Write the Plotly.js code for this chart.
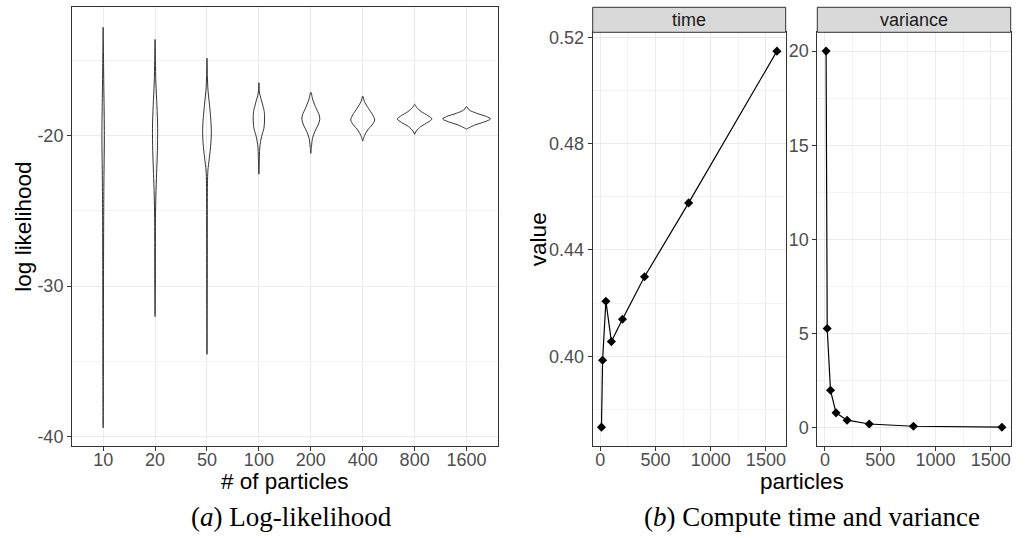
<!DOCTYPE html>
<html>
<head>
<meta charset="utf-8">
<script src="https://cdn.plot.ly/plotly-3.0.1.min.js"></script>
<style>html,body{margin:0;padding:0;background:#fff;}#chart{width:1025px;height:538px;}</style>
</head>
<body>
<div id="chart"></div>
<script>
// ---------- DATA ----------
const categories = ['10', '20', '50', '100', '200', '400', '800', '1600'];
const llTickVals = [-40, -30, -20];
const llTickText = ['-40', '-30', '-20'];

// violin outlines: log-likelihood values and half-widths (category units)
const v10_y   = [-12.8, -14.5, -16.5, -18.5, -20, -21.5, -23, -25, -28, -32, -36, -39.42];
const v10_w   = [0, 0.006, 0.012, 0.02, 0.024, 0.02, 0.015, 0.011, 0.008, 0.006, 0.005, 0];
const v20_y   = [-13.61, -15, -16.5, -18, -19.5, -21, -22.5, -24, -25.5, -28, -30, -32.02];
const v20_w   = [0, 0.007, 0.016, 0.036, 0.05, 0.045, 0.03, 0.016, 0.008, 0.006, 0.005, 0];
const v50_y   = [-14.85, -16, -17, -18, -19, -19.7, -20.5, -21.5, -22.3, -23.2, -26, -30, -34.53];
const v50_w   = [0, 0.007, 0.02, 0.05, 0.075, 0.084, 0.075, 0.045, 0.018, 0.009, 0.006, 0.005, 0];
const v100_y  = [-16.47, -17.18, -17.84, -18.4, -18.96, -19.51, -20.07, -20.73, -21.4, -22.56];
const v100_w  = [0, 0.013, 0.064, 0.103, 0.109, 0.096, 0.051, 0.019, 0.01, 0];
const v200_y  = [-17.11, -17.62, -18.18, -18.62, -18.91, -19.29, -19.73, -20.18, -20.73, -21.18];
const v200_w  = [0, 0.039, 0.103, 0.161, 0.173, 0.141, 0.077, 0.032, 0.013, 0];
const v400_y  = [-17.36, -17.73, -18.18, -18.62, -18.96, -19.29, -19.62, -19.96, -20.36];
const v400_w  = [0, 0.032, 0.109, 0.193, 0.231, 0.18, 0.096, 0.039, 0];
const v800_y  = [-17.91, -18.13, -18.4, -18.67, -18.89, -19.11, -19.4, -19.69, -19.91];
const v800_w  = [0, 0.039, 0.128, 0.257, 0.334, 0.257, 0.116, 0.032, 0];
const v1600_y = [-18.07, -18.29, -18.51, -18.73, -18.89, -19.07, -19.29, -19.47, -19.56];
const v1600_w = [0, 0.051, 0.193, 0.385, 0.462, 0.353, 0.161, 0.051, 0];

const particles = [10, 20, 50, 100, 200, 400, 800, 1600];
const timeValues = [0.3733, 0.3985, 0.4207, 0.4055, 0.4139, 0.4299, 0.4577, 0.5148];
const varianceValues = [20.0, 5.26, 1.98, 0.78, 0.39, 0.19, 0.07, 0.02];

// ---------- BUILD ----------
const violinY = [v10_y, v20_y, v50_y, v100_y, v200_y, v400_y, v800_y, v1600_y];
const violinW = [v10_w, v20_w, v50_w, v100_w, v200_w, v400_w, v800_w, v1600_w];

const traces = [];
violinY.forEach((ys, i) => {
  const ws = violinW[i];
  const xs = ws.map(w => i + w).concat(ws.slice().reverse().map(w => i - w));
  const yy = ys.concat(ys.slice().reverse());
  traces.push({
    type: 'scatter', mode: 'lines', x: xs, y: yy,
    line: {color: '#333333', width: 1, shape: 'spline', smoothing: 0.8},
    xaxis: 'x', yaxis: 'y', hoverinfo: 'skip'
  });
});

traces.push({
  type: 'scatter', mode: 'lines+markers', x: particles, y: timeValues,
  line: {color: '#000', width: 1.2},
  marker: {symbol: 'diamond', size: 7, color: '#000'},
  xaxis: 'x2', yaxis: 'y2'
});
traces.push({
  type: 'scatter', mode: 'lines+markers', x: particles, y: varianceValues,
  line: {color: '#000', width: 1.2},
  marker: {symbol: 'diamond', size: 7, color: '#000'},
  xaxis: 'x3', yaxis: 'y3'
});

const W = 1025, H = 538;
const px = v => v / W;
const py = v => (H - v) / H;

const tickFont = {family: 'Liberation Sans, Arial, sans-serif', size: 18, color: '#4d4d4d'};
const titleFont = {family: 'Liberation Sans, Arial, sans-serif', size: 22.5, color: '#000'};
const capFont = {family: 'Liberation Serif, Times New Roman, serif', size: 27, color: '#000'};

const baseAxis = {
  showline: true, mirror: true, linecolor: '#333333', linewidth: 1,
  ticks: 'outside', ticklen: 4, tickcolor: '#333333', tickwidth: 1,
  showgrid: true, gridcolor: '#ebebeb', gridwidth: 1,
  zeroline: false, tickfont: tickFont, fixedrange: true
};
const xTickAdj = {ticklabelstandoff: -7};

const panelBottom = 446, panelTop = 7.3, stripBottom = 32.3;

const layout = {
  width: W, height: H,
  margin: {l: 0, r: 0, t: 0, b: 0},
  paper_bgcolor: '#fff', plot_bgcolor: '#fff',
  showlegend: false,
  xaxis: Object.assign({}, baseAxis, xTickAdj, {
    domain: [px(72), px(497.7)], range: [-0.6, 7.6],
    tickmode: 'array', tickvals: categories.map((c, i) => i), ticktext: categories,
    anchor: 'y'
  }),
  yaxis: Object.assign({}, baseAxis, {
    domain: [py(panelBottom), py(panelTop)], range: [-40.62, -11.47],
    tickmode: 'array', tickvals: llTickVals, ticktext: llTickText,
    minor: {tickmode: 'array', tickvals: [-35, -25, -15], showgrid: true, gridcolor: '#f3f3f3', gridwidth: 1, ticks: ''},
    anchor: 'x'
  }),
  xaxis2: Object.assign({}, baseAxis, xTickAdj, {
    domain: [px(592.7), px(785.7)], range: [-69.5, 1679.5],
    tick0: 0, dtick: 500,
    minor: {dtick: 250, tick0: 0, showgrid: true, gridcolor: '#f3f3f3', gridwidth: 1, ticks: ''},
    anchor: 'y2'
  }),
  yaxis2: Object.assign({}, baseAxis, {
    domain: [py(panelBottom), py(stripBottom)], range: [0.3662, 0.5219],
    tick0: 0, dtick: 0.04, tickformat: '.2f',
    minor: {dtick: 0.02, tick0: 0, showgrid: true, gridcolor: '#f3f3f3', gridwidth: 1, ticks: ''},
    anchor: 'x2'
  }),
  xaxis3: Object.assign({}, baseAxis, xTickAdj, {
    domain: [px(817.3), px(1010.7)], range: [-69.5, 1679.5],
    tick0: 0, dtick: 500,
    minor: {dtick: 250, tick0: 0, showgrid: true, gridcolor: '#f3f3f3', gridwidth: 1, ticks: ''},
    anchor: 'y3'
  }),
  yaxis3: Object.assign({}, baseAxis, {
    domain: [py(panelBottom), py(stripBottom)], range: [-0.98, 21.0],
    tick0: 0, dtick: 5,
    minor: {dtick: 2.5, tick0: 0, showgrid: true, gridcolor: '#f3f3f3', gridwidth: 1, ticks: ''},
    anchor: 'x3'
  }),
  shapes: [
    {type: 'rect', xref: 'paper', yref: 'paper', x0: px(592.7), x1: px(785.7), y0: py(stripBottom), y1: py(panelTop),
     fillcolor: '#d9d9d9', line: {color: '#333333', width: 1}},
    {type: 'rect', xref: 'paper', yref: 'paper', x0: px(817.3), x1: px(1010.7), y0: py(stripBottom), y1: py(panelTop),
     fillcolor: '#d9d9d9', line: {color: '#333333', width: 1}}
  ],
  annotations: [
    {text: 'time', xref: 'paper', yref: 'paper', x: px((592.7 + 785.7) / 2), y: py((panelTop + stripBottom) / 2),
     showarrow: false, xanchor: 'center', yanchor: 'middle', font: {family: tickFont.family, size: 18, color: '#1a1a1a'}},
    {text: 'variance', xref: 'paper', yref: 'paper', x: px((817.3 + 1010.7) / 2), y: py((panelTop + stripBottom) / 2),
     showarrow: false, xanchor: 'center', yanchor: 'middle', font: {family: tickFont.family, size: 18, color: '#1a1a1a'}},
    {text: 'log likelihood', xref: 'paper', yref: 'paper', x: px(24), y: py((panelTop + panelBottom) / 2),
     showarrow: false, xanchor: 'center', yanchor: 'middle', textangle: -90, font: titleFont},
    {text: '# of particles', xref: 'paper', yref: 'paper', x: px(284.8), y: py(481),
     showarrow: false, xanchor: 'center', yanchor: 'middle', font: titleFont},
    {text: 'value', xref: 'paper', yref: 'paper', x: px(538), y: py((stripBottom + panelBottom) / 2),
     showarrow: false, xanchor: 'center', yanchor: 'middle', textangle: -90, font: titleFont},
    {text: 'particles', xref: 'paper', yref: 'paper', x: px(801.7), y: py(481),
     showarrow: false, xanchor: 'center', yanchor: 'middle', font: titleFont},
    {text: '(<i>a</i>) Log-likelihood', xref: 'paper', yref: 'paper', x: px(291.7), y: py(517),
     showarrow: false, xanchor: 'center', yanchor: 'middle', font: capFont},
    {text: '(<i>b</i>) Compute time and variance', xref: 'paper', yref: 'paper', x: px(812), y: py(517),
     showarrow: false, xanchor: 'center', yanchor: 'middle', font: capFont}
  ]
};

Plotly.newPlot('chart', traces, layout, {staticPlot: true, displayModeBar: false});
</script>
</body>
</html>
